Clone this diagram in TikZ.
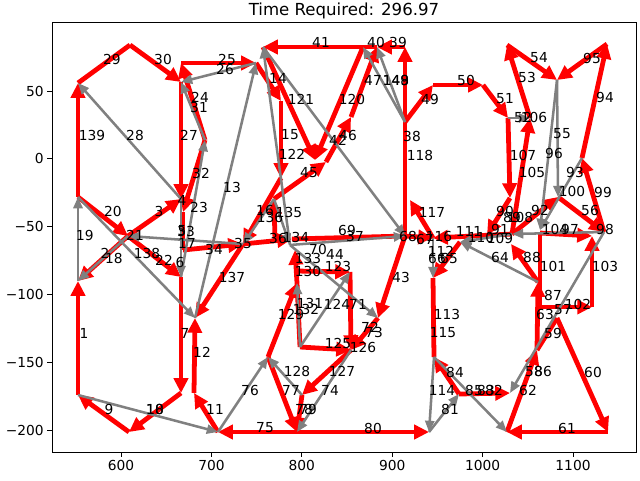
\documentclass[tikz,border=0pt]{standalone}
\usepackage{fontspec}
\setmainfont{DejaVu Sans}
\usetikzlibrary{arrows.meta}

\begin{document}
\begin{tikzpicture}[x=0.25mm, y=-0.25mm,
    rd/.style={red, line width=3.4pt, -{Triangle[width=10pt,length=10.5pt]}},
    rdl/.style={red, line width=3.4pt},
    gy/.style={gray, line width=1.8pt, -{Triangle[width=6.5pt,length=8pt]}},
    lbl/.style={font=\fontsize{9.8}{11}\selectfont, inner sep=0pt},
    tk/.style={black, line width=0.6pt}]
    \useasboundingbox (0,0) rectangle (640,480);
    % points (pixel positions)
    \foreach \n/\x/\y in {a1/78/395, a2/78/281, a3/78/197, a4/78/83, b1/130/45,
        c1/181/82, c2/181/63, c3/205/140, c4/181/199, c5/128/236, c6/181/277,
        c7/181/393, c8/129/432, c9/218/432, c10/183/250, c11/183/212,
        d1/194/393, d2/195/318, d3/256/63, d4/281/101, d5/281/178, d6/243/244,
        d7/274/199, d8/263/47, d9/363/47, e1/377/47, e2/405/47, e3/405/122,
        e4/315/160, e5/326/162, e6/351/117, e7/405/236, e8/290/245, e10/275/241,
        e11/292/239, f1/350/272, f3/300/347, f4/378/318, f5/351/350, f6/268/357,
        f7/302/395, f8/297/432, f9/429/432, k1/296/271, k2/295/250, e9/297/283,
        g1/433/238, g2/410/200, g3/433/278, g4/434/357, g5/459/394, g6/510/393,
        g7/507/432, g8/608/432, h1/433/85, h2/483/85, h3/508/118, h4/530/118,
        h5/507/45, h6/557/80, h7/607/44, h8/582/158, h9/558/197, i1/604/232,
        i2/510/198, i3/512/234, i4/487/235, i5/540/233, i6/540/307, i7/592/307,
        i8/592/236, i9/538/282, j1/511/244, j2/460/242, j3/537/350, j4/557/318,
        j5/540/230} {
        \coordinate (\n) at (\x,\y);
    }
    % route legs
    \foreach \i/\j in {a4/b1, c11/c10, e7/e3, g3/g4, i5/i6, e9/f3, e11/e7, j3/j4} {
        \draw[rdl] (\i)--(\j);
    }
    \foreach \i/\j in {a1/a2, a3/a4, b1/c1, c1/c4, c3/c2, c2/d3, d3/d4, a3/c5,
        c5/c4, c3/c11, c5/c6, c5/a2, c6/c7, c7/c8, c8/a1, c9/d1, d1/d2, d6/d2,
        c10/d6, d5/d6, e10/d7, d7/e5, e5/e6, e6/e1, d4/d5, e1/d8, d8/e4, d9/e4,
        e2/e1, e3/e2, g1/g2, e7/g1, e3/h1, h1/h2, h2/h3, h3/i2, i3/h4, h4/h5,
        h5/h6, h7/h6, h8/h7, h9/i1, i1/h8, i3/h9, i2/i4, i3/g1, j2/g3, g5/g4,
        g5/g6, g7/j3, j3/i9, i9/j1, i6/i7, i7/i8, i5/i8, j4/g8, g8/g7, e7/f4,
        f4/f5, f3/f5, f1/f5, k1/f1, e9/k2, f6/e9, f5/f7, f6/f8, f7/f8, f8/f9,
        f8/c9, d6/e11} {
        \draw[rd] (\i)--(\j);
    }
    % second vehicle
    \foreach \i/\j in {a2/a3, c5/a2, c4/a4, a3/d2, d6/c5, c4/c6, c6/c3, c3/c1,
        d3/c1, d2/d3, a1/c9, c9/f6, f7/f6, f5/f8, e8/d8, d8/e7, d7/d6, d7/e8,
        e8/e7, e8/f4, f3/f1, f3/e9, e3/e1, e3/d9, g1/g3, g4/f9, g4/g7, f9/g5,
        i9/j2, i1/g6, h6/j5, h6/h9, h8/j5, i1/i3, h3/h4, i3/j2} {
        \draw[gy] (\i)--(\j);
    }
    % leg numbers
    \foreach \t/\x/\y [count=\k] in {29/112/59, 30/163/59, 25/227/59, 26/225/69,
        24/200/97, 31/199/107, 139/92/135, 28/135/135, 27/189/135, 41/321/42,
        40/376/42, 39/398/42, 14/278/78, 121/301/99, 120/352/99, 47/373/80,
        148/396/80, 149/396/80, 49/430/99, 50/466/80, 51/505/99, 53/527/77,
        54/539/58, 95/592/58, 94/605/97, 52/523/117, 106/534/117, 55/562/134,
        96/554/153, 107/523/155, 105/532/172, 93/575/172, 100/572/191,
        99/603/192, 56/590/210, 92/540/210, 90/505/211, 89/512/217,
        108/520/217, 104/555/229, 97/570/229, 98/605/229, 91/500/229,
        109/500/238, 111/469/231, 110/481/237, 116/439/236, 117/432/212,
        118/420/155, 38/412/136, 15/290/135, 122/292/154, 42/338/140,
        46/348/135, 45/309/173, 13/232/187, 32/201/173, 16/265/210,
        136/270/217, 135/289/212, 35/243/243, 36/278/238, 134/296/237,
        69/347/230, 37/355/236, 68/408/236, 67/425/239, 20/113/211, 3/159/211,
        4/182/200, 23/199/207, 19/85/235, 21/135/235, 5/182/231, 33/186/231,
        17/187/243, 2/105/253, 18/114/258, 138/147/253, 22/164/260, 6/180/262,
        34/214/249, 137/232/277, 1/84/333, 7/185/333, 12/202/352, 9/109/409,
        10/155/409, 18/155/409, 11/215/409, 76/250/390, 75/265/428,
        128/297/371, 127/342/371, 77/291/390, 74/330/390, 78/304/409,
        79/308/409, 80/373/428, 125/338/343, 126/363/347, 70/318/249,
        44/335/254, 133/308/258, 130/308/271, 123/338/266, 43/401/277,
        131/310/303, 124/337/304, 71/358/304, 129/291/314, 132/306/309,
        72/370/327, 73/374/332, 112/441/251, 66/437/258, 65/449/258,
        113/447/314, 115/443/333, 84/455/372, 114/442/390, 81/450/409,
        85/474/390, 83/486/390, 82/494/390, 58/534/371, 86/543/371,
        62/528/390, 60/593/372, 61/567/428, 64/500/257, 88/532/257,
        101/553/266, 103/605/266, 87/553/295, 63/545/314, 57/563/310,
        102/578/304, 59/553/333} {
        \node[lbl] (t\k) at (\x,\y) {\t};
    }
    % axes
    \draw[tk] (52,22) rectangle (636,452);
    \foreach \v/\x [count=\k] in {600/121, 700/211.4, 800/301.8, 900/392.2,
        1000/482.6, 1100/573} {
        \draw[tk] (\x,452) -- (\x,457);
        \node[lbl, anchor=north] (xt\k) at (\x,460) {\v};
    }
    \foreach \v/\y [count=\k] in {50/91, 0/158.8, −50/226.6, −100/294.4,
        −150/362.2, −200/430} {
        \draw[tk] (52,\y) -- (47,\y);
        \node[lbl, anchor=east] (yt\k) at (44,\y) {\v};
    }
    \node[font=\fontsize{11.8}{13}\selectfont, inner sep=0pt] (title) at (344,11) {Time Required: 296.97};
\end{tikzpicture}
\end{document}
